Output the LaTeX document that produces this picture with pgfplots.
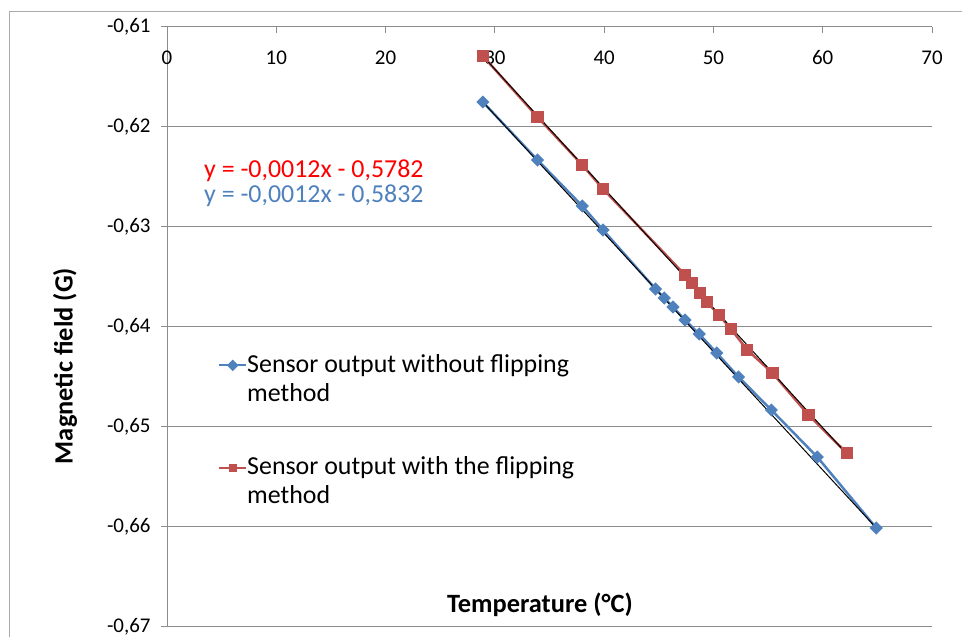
\documentclass[border=0pt]{standalone}
\usepackage{fontspec}
\setmainfont{Carlito}
\usepackage{pgfplots}
\pgfplotsset{compat=1.18}
\definecolor{sblue}{RGB}{79,129,189}
\definecolor{sred}{RGB}{192,80,77}
\definecolor{gridc}{RGB}{140,140,140}
\definecolor{framec}{RGB}{170,170,170}
\begin{document}
\begin{tikzpicture}[x=1bp,y=1bp]
\useasboundingbox (0,0) rectangle (962,637);
\draw[framec, line width=1bp] (9,0) -- (9,625) -- (962,625);
\begin{axis}[
  at={(167bp,10bp)}, anchor=south west,
  scale only axis, width=765bp, height=600bp,
  xmin=0, xmax=70, ymin=-0.67, ymax=-0.61,
  axis x line*=top, axis y line*=left,
  axis line style={draw=gridc, line width=1bp, -},
  xtick={0,10,20,30,40,50,60,70},
  ytick={-0.67,-0.66,-0.65,-0.64,-0.63,-0.62,-0.61},
  ymajorgrids, grid style={draw=gridc, line width=1bp},
  tick align=inside,
  major tick length=6bp,
  tick style={draw=gridc, line width=1bp},
  y tick style={xshift=-6bp},
  /pgf/number format/assume math mode=true,
  yticklabel style={/pgf/number format/use comma, /pgf/number format/fixed, /pgf/number format/fixed zerofill, /pgf/number format/precision=2, xshift=-13bp},
  ticklabel style={font=\fontsize{21}{25}\selectfont, text=black},
  xticklabel style={anchor=north, yshift=-20bp},
  xlabel={Temperature (°C)},
  ylabel={Magnetic field (G)},
  label style={font=\fontsize{26.5}{30}\selectfont\bfseries},
  xlabel style={at={(axis description cs:0.4876,0.037)}, anchor=center},
  ylabel style={at={(axis description cs:-0.1333,0.435)}, anchor=center, rotate=0},
  legend style={draw=none, fill=none, at={(axis description cs:0.0667,0.455)}, anchor=north west,
    font=\fontsize{26}{29}\selectfont, cells={align=left, anchor=west}, row sep=54bp,
    column sep=0pt, inner sep=0pt, nodes={inner sep=0pt}},
  legend image code/.code={\draw[#1, yshift=13bp, line width=2bp, mark size=3bp, mark repeat=2, mark phase=2] plot coordinates {(0bp,0bp) (13.5bp,0bp) (27bp,0bp)};},
  legend cell align=left,
  clip=false,
]
\addplot[sblue, line width=2.5bp, mark=square*, mark size=3.4bp, mark options={solid, rotate=45, fill=sblue, draw=sblue}]
coordinates {
(28.9,-0.6175) (33.9,-0.6233) (38.0,-0.6279) (39.9,-0.6303)
(44.7,-0.6362) (45.5,-0.6371) (46.3,-0.6380) (47.4,-0.6393)
(48.7,-0.6407) (50.3,-0.6426) (52.3,-0.6450) (55.3,-0.6483)
(59.5,-0.6530) (64.9,-0.6601)
};
\addlegendentry{Sensor output without flipping\\method}
\addplot[sred, line width=2.5bp, mark=square*, mark size=4.8bp, mark options={solid, fill=sred, draw=sred}]
coordinates {
(28.9,-0.6129) (33.9,-0.6190) (38.0,-0.6238) (39.9,-0.6262)
(47.4,-0.6348) (48.0,-0.6356) (48.8,-0.6366) (49.4,-0.6375)
(50.5,-0.6388) (51.6,-0.6402) (53.1,-0.6423) (55.4,-0.6446)
(58.7,-0.6488) (62.2,-0.6526)
};
\addlegendentry{Sensor output with the flipping\\method}
\addplot[black, line width=1bp, forget plot] coordinates {(28.9,-0.6129) (62.2,-0.6527)};
\addplot[black, line width=1bp, forget plot] coordinates {(28.9,-0.6175) (64.9,-0.6601)};
\end{axis}
\node[anchor=base west, inner sep=0pt, text=red, font=\fontsize{26}{30}\selectfont] at (204,459) {y = -0,0012x - 0,5782};
\node[anchor=base west, inner sep=0pt, text=sblue, font=\fontsize{26}{30}\selectfont] at (204,434) {y = -0,0012x - 0,5832};
\end{tikzpicture}
\end{document}
